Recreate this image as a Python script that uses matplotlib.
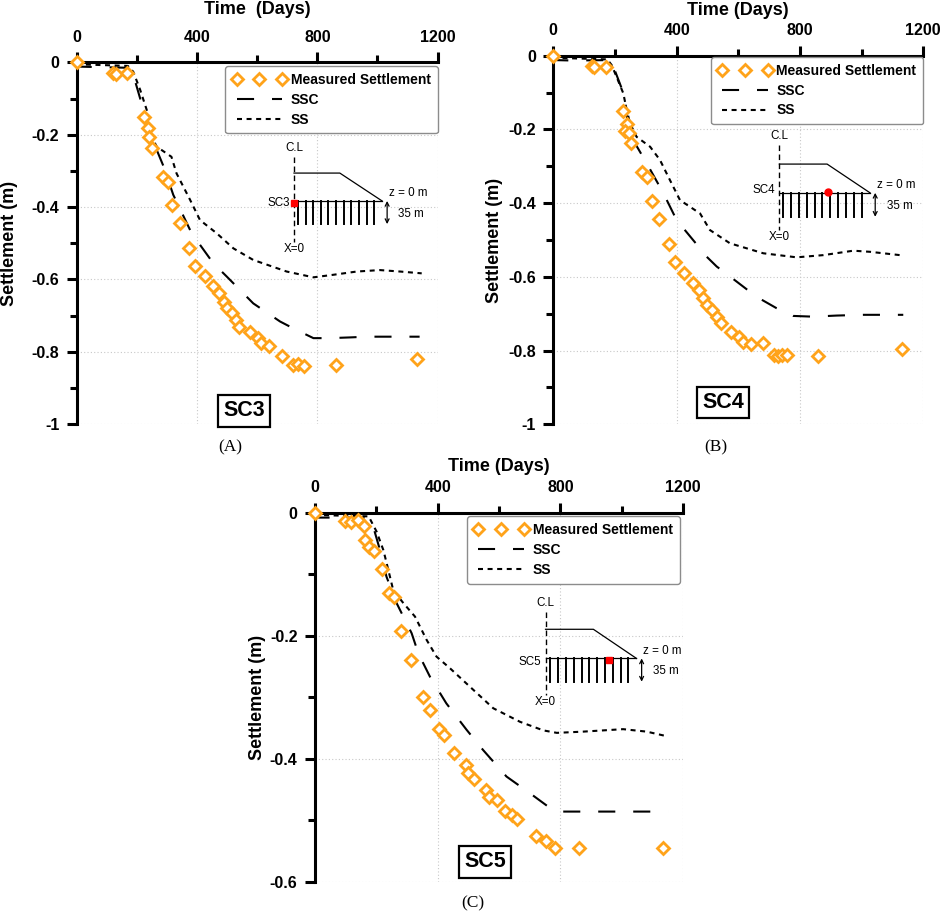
import matplotlib
matplotlib.use("Agg")
import matplotlib.pyplot as plt
from matplotlib.ticker import MultipleLocator, FuncFormatter

plt.rcParams["font.family"] = ["Liberation Sans", "DejaVu Sans"]

# ---- SC3 ----
meas_t_sc3 = [0, 122, 131, 166, 225, 238, 241, 252, 288, 302, 318, 343, 374, 393, 426, 454,
              473, 491, 499, 517, 528, 541, 576, 602, 613, 640, 681, 718, 735, 756, 861, 1130]
meas_s_sc3 = [0, -0.030, -0.032, -0.030, -0.150, -0.182, -0.205, -0.236, -0.316, -0.330,
              -0.394, -0.445, -0.514, -0.562, -0.590, -0.617, -0.638, -0.661, -0.680, -0.693,
              -0.712, -0.730, -0.746, -0.762, -0.776, -0.785, -0.811, -0.836, -0.834, -0.838,
              -0.836, -0.820]
ssc_t_sc3 = [0, 12, 60, 165, 190, 225, 240, 260, 290, 321, 382, 454, 499, 587, 676, 720,
             787, 842, 909, 964, 1086, 1140]
ssc_s_sc3 = [0, -0.012, -0.013, -0.015, -0.04, -0.14, -0.19, -0.23, -0.29, -0.366, -0.472,
             -0.555, -0.592, -0.666, -0.716, -0.735, -0.762, -0.762, -0.760, -0.758, -0.758,
             -0.758]
ss_t_sc3 = [0, 20, 100, 170, 188, 211, 233, 249, 266, 315, 332, 377, 410, 465, 521, 587,
            698, 787, 853, 931, 1008, 1075, 1147]
ss_s_sc3 = [0, -0.006, -0.008, -0.010, -0.026, -0.076, -0.132, -0.205, -0.233, -0.261,
            -0.307, -0.380, -0.436, -0.472, -0.514, -0.546, -0.578, -0.594, -0.587, -0.578,
            -0.574, -0.578, -0.583]

# ---- SC4 ----
meas_t_sc4 = [0, 124, 133, 170, 227, 238, 232, 246, 251, 289, 303, 319, 344, 375, 395, 425,
              454, 474, 486, 499, 516, 530, 543, 575, 603, 614, 640, 681, 716, 730, 741, 757,
              859, 1130]
meas_s_sc4 = [0, -0.028, -0.030, -0.030, -0.150, -0.184, -0.204, -0.209, -0.236, -0.315,
              -0.328, -0.394, -0.443, -0.512, -0.561, -0.589, -0.618, -0.637, -0.658, -0.676,
              -0.690, -0.708, -0.726, -0.749, -0.762, -0.776, -0.782, -0.780, -0.812, -0.815,
              -0.813, -0.812, -0.816, -0.797]
ssc_t_sc4 = [0, 12, 60, 173, 195, 232, 240, 259, 303, 357, 400, 476, 486, 530, 573, 659,
             724, 778, 843, 919, 1005, 1135]
ssc_s_sc4 = [0, -0.012, -0.013, -0.012, -0.03, -0.111, -0.175, -0.229, -0.292, -0.373,
             -0.446, -0.523, -0.536, -0.572, -0.599, -0.654, -0.685, -0.706, -0.708, -0.705,
             -0.703, -0.703]
ss_t_sc4 = [0, 20, 100, 175, 189, 205, 227, 238, 249, 270, 314, 346, 378, 411, 476, 508,
            573, 681, 789, 876, 973, 1027, 1124]
ss_s_sc4 = [0, -0.006, -0.008, -0.010, -0.025, -0.057, -0.102, -0.147, -0.184, -0.220,
            -0.247, -0.283, -0.337, -0.392, -0.428, -0.473, -0.509, -0.536, -0.547, -0.541,
            -0.529, -0.532, -0.541]

# ---- SC5 ----
meas_t_sc5 = [0, 98, 116, 141, 161, 163, 177, 193, 217, 241, 258, 279, 313, 351, 375, 405,
              421, 453, 491, 500, 519, 556, 567, 592, 619, 643, 659, 719, 753, 782, 861, 1133]
meas_s_sc5 = [0, -0.013, -0.015, -0.012, -0.022, -0.044, -0.055, -0.062, -0.091, -0.130,
              -0.137, -0.193, -0.240, -0.300, -0.321, -0.351, -0.362, -0.390, -0.411, -0.424,
              -0.433, -0.451, -0.462, -0.467, -0.485, -0.492, -0.498, -0.526, -0.534, -0.545,
              -0.545, -0.545]
ssc_t_sc5 = [0, 12, 60, 168, 190, 212, 233, 266, 315, 337, 375, 428, 494, 548, 624, 700,
             760, 792, 874, 1004, 1151]
ssc_s_sc5 = [0, -0.008, -0.008, -0.008, -0.023, -0.061, -0.104, -0.147, -0.196, -0.229,
             -0.267, -0.310, -0.353, -0.386, -0.429, -0.456, -0.478, -0.486, -0.486, -0.486,
             -0.486]
ss_t_sc5 = [0, 20, 100, 175, 201, 223, 239, 255, 288, 326, 364, 396, 440, 505, 581, 668,
            744, 788, 874, 1004, 1081, 1151]
ss_s_sc5 = [0, -0.004, -0.005, -0.006, -0.031, -0.061, -0.093, -0.126, -0.147, -0.169,
            -0.207, -0.234, -0.253, -0.283, -0.318, -0.340, -0.354, -0.358, -0.356, -0.352,
            -0.356, -0.364]

x_ticks = [0, 400, 800, 1200]
ORANGE = "#FFA31A"


def fmt_y(v, pos):
    v = round(v, 6)
    if v == 0:
        return "0"
    return "%g" % v


def draw_inset(ax, g, label, dot_marker):
    """Small embankment / drain sketch, in axes fraction coords."""
    tr = ax.transAxes
    kw = dict(transform=tr, clip_on=False, color="black")
    ax.plot([g["xcl"], g["xcl"]], [g["cl_top"], g["cl_bot"]], lw=1.0,
            dashes=(4, 2.5), **kw)
    ax.plot([g["xcl"], g["xcr"], g["xtoe"]], [g["yemb"], g["yemb"], g["ygnd"]], lw=0.9, **kw)
    ax.plot([g["xcl"], g["xtoe"]], [g["ygnd"], g["ygnd"]], lw=0.9, **kw)
    n = 11
    for i in range(n):
        xd = g["xd0"] + (g["xd1"] - g["xd0"]) * i / (n - 1)
        ax.plot([xd, xd], [g["ygnd"], g["ydr"]], lw=1.4, **kw)
    xa = g["xtoe"] + 0.014
    ax.annotate("", xy=(xa, g["ygnd"]), xytext=(xa, g["ydr"]), xycoords=tr,
                arrowprops=dict(arrowstyle="<->", lw=0.9, color="black",
                                shrinkA=0, shrinkB=0, mutation_scale=7))
    fs = 8.4
    ax.text(g["xcl"], g["cl_top"] + 0.008, "C.L", transform=tr, fontsize=fs,
            ha="center", va="bottom")
    ax.text(g["xcl"], g["cl_bot"] - 0.002, "X=0", transform=tr, fontsize=fs,
            ha="center", va="top")
    ax.text(g["xcl"] - 0.012, g["ylab"], label, transform=tr, fontsize=fs,
            ha="right", va="center")
    ax.text(g["xtoe"] + 0.019, g["ygnd"] + 0.021, "z = 0 m", transform=tr, fontsize=fs,
            ha="left", va="center")
    ax.text(g["xtoe"] + 0.045, (g["ygnd"] + g["ydr"]) / 2 - 0.003, "35 m", transform=tr,
            fontsize=fs, ha="left", va="center")
    ax.plot([g["dotx"]], [g["doty"]], marker=dot_marker, ms=5, color="red", mec="red",
            transform=tr, clip_on=False, zorder=6)


def panel(fig, rect, t_m, s_m, t_ssc, s_ssc, t_ss, s_ss, ymin, name,
          title, title_y, ylab_x, leg_anchor, box_pos, inset_geo, dot_marker):
    ax = fig.add_axes(rect)
    ax.plot(t_ssc, s_ssc, color="black", lw=1.5, dashes=(8.2, 8.6), label="SSC", zorder=3)
    ax.plot(t_ss, s_ss, color="black", lw=1.5, dashes=(2.4, 2.2), label="SS", zorder=3)
    ax.plot(t_m, s_m, ls="none", marker="D", ms=6.5, mfc="white", mec=ORANGE, mew=2.0,
            label="Measured Settlement", zorder=5, clip_on=False)

    ax.set_xlim(0, 1200)
    ax.set_ylim(ymin, 0)
    ax.xaxis.tick_top()
    ax.set_xticks(x_ticks)
    ax.xaxis.set_minor_locator(MultipleLocator(200))
    ax.yaxis.set_major_locator(MultipleLocator(0.2))
    ax.yaxis.set_minor_locator(MultipleLocator(0.1))
    ax.yaxis.set_major_formatter(FuncFormatter(fmt_y))
    for side in ["right", "bottom"]:
        ax.spines[side].set_visible(False)
    for side in ["left", "top"]:
        ax.spines[side].set_linewidth(2.2)
    ax.tick_params(which="major", direction="out", length=7.5, width=2.2,
                   labelsize=11.5, pad=5)
    ax.tick_params(which="minor", direction="out", length=5, width=2.2)
    for lab in ax.get_xticklabels() + ax.get_yticklabels():
        lab.set_fontweight("bold")
    ax.grid(True, which="major", ls=(0, (1, 2)), color="#c8c8c8", lw=0.8)
    ax.set_axisbelow(True)

    ax.text(0.5, title_y, title, transform=ax.transAxes, ha="center", va="center",
            fontsize=13, fontweight="bold")
    ax.text(ylab_x, 0.5, "Settlement (m)", transform=ax.transAxes, rotation=90,
            ha="center", va="center", fontsize=13, fontweight="bold")

    handles, labels = ax.get_legend_handles_labels()
    order = [2, 0, 1]
    leg = ax.legend([handles[i] for i in order], [labels[i] for i in order],
                    loc="upper right", bbox_to_anchor=leg_anchor, borderaxespad=0,
                    numpoints=3, handlelength=3.9, handletextpad=0.3,
                    labelspacing=0.42, borderpad=0.5, fancybox=True, framealpha=1,
                    edgecolor="#8c8c8c", prop=dict(weight="bold", size=10))
    leg.get_frame().set_linewidth(1.0)

    ax.text(box_pos[0], box_pos[1], name, transform=ax.transAxes, ha="center",
            va="center", fontsize=15.5, fontweight="bold", zorder=7,
            bbox=dict(boxstyle="square,pad=0.25", fc="white", ec="black", lw=1.6))
    draw_inset(ax, inset_geo, name, dot_marker)
    return ax


fig = plt.figure(figsize=(9.41, 9.15), dpi=100)

geo_a = dict(xcl=0.602, cl_top=0.738, cl_bot=0.504, yemb=0.694, xcr=0.729, xtoe=0.846,
             ygnd=0.617, ydr=0.553, xd0=0.613, xd1=0.824, dotx=0.602, doty=0.611,
             ylab=0.611)
geo_b = dict(xcl=0.611, cl_top=0.758, cl_bot=0.527, yemb=0.706, xcr=0.740, xtoe=0.856,
             ygnd=0.628, ydr=0.563, xd0=0.622, xd1=0.833, dotx=0.742, doty=0.630,
             ylab=0.635)
geo_c = dict(xcl=0.626, cl_top=0.732, cl_bot=0.505, yemb=0.684, xcr=0.756, xtoe=0.873,
             ygnd=0.605, ydr=0.542, xd0=0.639, xd1=0.851, dotx=0.798, doty=0.600,
             ylab=0.596)

panel(fig, [0.0815, 0.5363, 0.3836, 0.3956], meas_t_sc3, meas_s_sc3, ssc_t_sc3, ssc_s_sc3,
      ss_t_sc3, ss_s_sc3, -1.0, "SC3", "Time  (Days)", 1.147, -0.1875,
      (1.0, 0.99), (0.463, 0.037), geo_a, "s")
panel(fig, [0.588, 0.5363, 0.3932, 0.4028], meas_t_sc4, meas_s_sc4, ssc_t_sc4, ssc_s_sc4,
      ss_t_sc4, ss_s_sc4, -1.0, "SC4", "Time (Days)", 1.124, -0.158,
      (1.0, 0.997), (0.459, 0.059), geo_b, "o")
panel(fig, [0.3347, 0.0364, 0.3914, 0.4033], meas_t_sc5, meas_s_sc5, ssc_t_sc5, ssc_s_sc5,
      ss_t_sc5, ss_s_sc5, -0.6, "SC5", "Time (Days)", 1.124, -0.157,
      (0.99, 0.991), (0.462, 0.054), geo_c, "s")

serif = ["Liberation Serif", "DejaVu Serif"]
fig.text(230 / 941, 1 - 447 / 915, "(A)", ha="center", va="center", fontsize=12.5, family=serif)
fig.text(716 / 941, 1 - 447 / 915, "(B)", ha="center", va="center", fontsize=12.5, family=serif)
fig.text(473 / 941, 1 - 903 / 915, "(C)", ha="center", va="center", fontsize=12.5, family=serif)

fig.savefig("out.png", dpi=100)
